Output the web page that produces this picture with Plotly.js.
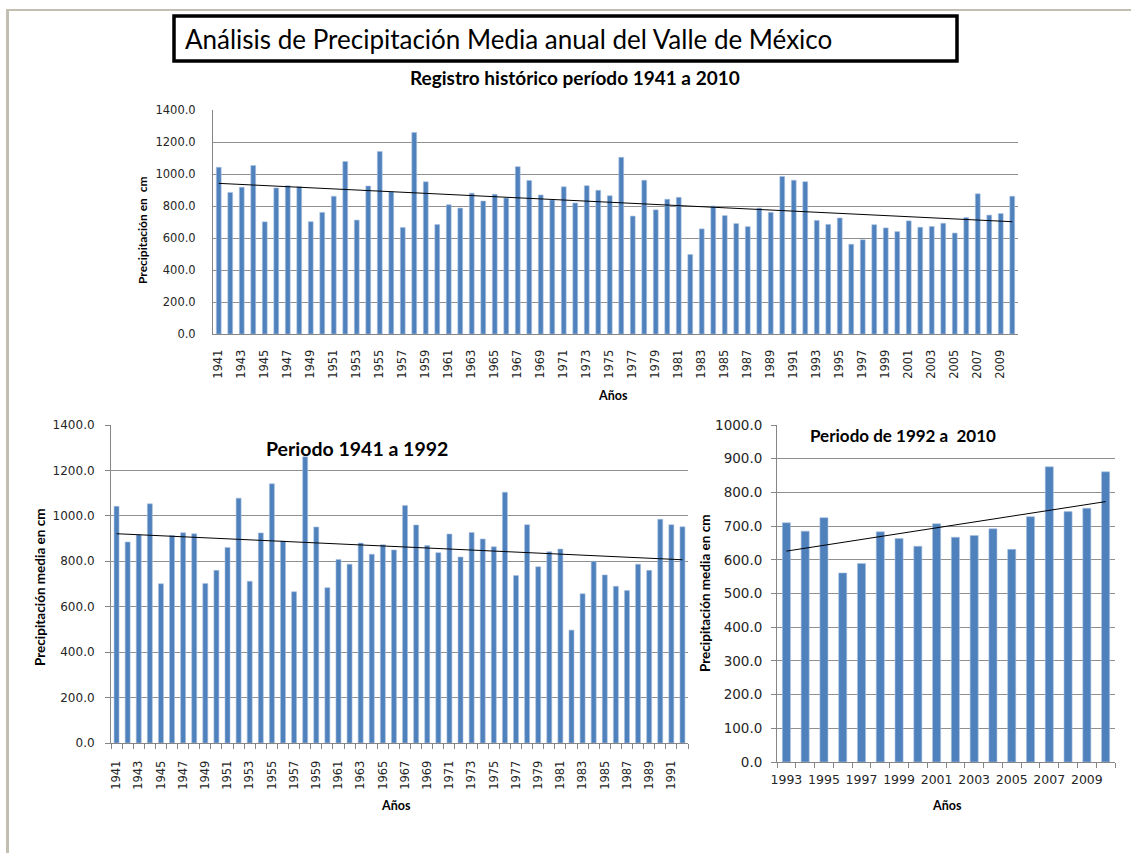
<!DOCTYPE html>
<html><head><meta charset="utf-8">
<script src="https://cdn.plot.ly/plotly-3.0.1.min.js"></script>
<style>html,body{margin:0;padding:0;background:#fff}#chart{width:1131px;height:853px}</style>
</head><body><div id="chart"></div>
<script>
// ---- Data ----
const years = [1941,1942,1943,1944,1945,1946,1947,1948,1949,1950,
  1951,1952,1953,1954,1955,1956,1957,1958,1959,1960,
  1961,1962,1963,1964,1965,1966,1967,1968,1969,1970,
  1971,1972,1973,1974,1975,1976,1977,1978,1979,1980,
  1981,1982,1983,1984,1985,1986,1987,1988,1989,1990,
  1991,1992,1993,1994,1995,1996,1997,1998,1999,2000,
  2001,2002,2003,2004,2005,2006,2007,2008,2009,2010];
const precip = [1042,885,917,1053,701,913,926,921,702,760,
  861,1078,712,925,1141,889,666,1260,951,684,
  808,787,880,831,873,850,1046,960,869,838,
  920,819,927,898,864,1104,737,961,776,842,
  854,497,657,800,740,690,671,787,760,985,
  961,952,710,685,725,561,589,683,663,640,
  707,667,672,692,631,728,876,743,753,861];

const mainTitle = "Análisis de Precipitación Media anual del Valle de México";
const titleTop = "Registro histórico período 1941 a 2010";
const titleLeft = "Periodo 1941 a 1992";
const titleRight = "Periodo de 1992 a \u00a02010";
const yTitleTop = "Precipitación en \u00a0cm";
const yTitleBottom = "Precipitación media en cm";
const xTitle = "Años";

// subsets
const yearsA = years.filter(y => y <= 1992);
const precipA = precip.filter((v, i) => years[i] <= 1992);
const yearsB = years.filter(y => y >= 1993);
const precipB = precip.filter((v, i) => years[i] >= 1993);

function trend(xs, ys) {
  const n = xs.length;
  const mx = xs.reduce((a, b) => a + b, 0) / n;
  const my = ys.reduce((a, b) => a + b, 0) / n;
  let sxy = 0, sxx = 0;
  for (let i = 0; i < n; i++) { sxy += (xs[i] - mx) * (ys[i] - my); sxx += (xs[i] - mx) ** 2; }
  const b = sxy / sxx;
  return { x: [xs[0], xs[n - 1]], y: [my + b * (xs[0] - mx), my + b * (xs[n - 1] - mx)] };
}
const oddTicks = arr => arr.filter(y => y % 2 === 1);
const bounds = arr => [arr[0] - 0.5].concat(arr.map(y => y + 0.5));

const W = 1131, H = 853;
const px = x => x / W;
const py = y => 1 - y / H;

const barColor = '#4f81bd';
const barLine = {color: '#a9c1df', width: 0.6};
const tickFont = {family: 'DejaVu Sans, Verdana, sans-serif', size: 11.5, color: '#262626'};
const gridC = '#8f8f8f';
const axisC = '#868686';

const tA = trend(yearsA, precipA), tB = trend(yearsB, precipB), tAll = trend(years, precip);

const traces = [
  {type: 'bar', x: years, y: precip, width: 0.42, marker: {color: barColor, line: barLine}, xaxis: 'x', yaxis: 'y'},
  {type: 'scatter', mode: 'lines', x: tAll.x, y: tAll.y, line: {color: '#000', width: 1}, xaxis: 'x', yaxis: 'y'},
  {type: 'bar', x: yearsA, y: precipA, width: 0.45, marker: {color: barColor, line: barLine}, xaxis: 'x2', yaxis: 'y2'},
  {type: 'scatter', mode: 'lines', x: tA.x, y: tA.y, line: {color: '#000', width: 1}, xaxis: 'x2', yaxis: 'y2'},
  {type: 'bar', x: yearsB, y: precipB, width: 0.43, marker: {color: barColor, line: barLine}, xaxis: 'x3', yaxis: 'y3'},
  {type: 'scatter', mode: 'lines', x: tB.x, y: tB.y, line: {color: '#000', width: 1}, xaxis: 'x3', yaxis: 'y3'}
];

const titleFont = (size, bold) => ({family: 'Lato, Liberation Sans, sans-serif', size: size, color: '#000', weight: bold ? 'bold' : 'normal'});

const layout = {
  width: W, height: H, autosize: false,
  margin: {l: 0, r: 0, t: 0, b: 0, pad: 0},
  paper_bgcolor: '#fff', plot_bgcolor: '#fff',
  showlegend: false, bargap: 0,
  xaxis: {
    domain: [px(213), px(1018)], anchor: 'y', range: [1940.5, 2010.5],
    tickmode: 'array', tickvals: oddTicks(years), ticktext: oddTicks(years).map(String),
    tickangle: -90, ticks: '', ticklabelstandoff: 10, tickfont: tickFont,
    showgrid: false, showline: true, linecolor: axisC, zeroline: false
  },
  yaxis: {
    domain: [py(334), py(110)], anchor: 'x', range: [0, 1400], dtick: 200, tickformat: '.1f',
    ticks: '', ticklabelstandoff: 14, tickfont: tickFont,
    showgrid: true, gridcolor: gridC, gridwidth: 1, showline: true, linecolor: axisC, zeroline: false
  },
  xaxis2: {
    domain: [px(111), px(688)], anchor: 'y2', range: [1940.5, 1992.5],
    tickmode: 'array', tickvals: oddTicks(yearsA), ticktext: oddTicks(yearsA).map(String),
    tickangle: -90, ticks: 'outside', ticklen: 0, ticklabelstandoff: 12, tickfont: tickFont,
    minor: {tickmode: 'array', tickvals: bounds(yearsA), ticks: 'outside', ticklen: 5, tickcolor: axisC, tickwidth: 1, showgrid: false},
    showgrid: false, showline: true, linecolor: axisC, zeroline: false
  },
  yaxis2: {
    domain: [py(743), py(425)], anchor: 'x2', range: [0, 1400], dtick: 200, tickformat: '.1f',
    ticks: 'outside', ticklen: 5, tickcolor: axisC, ticklabelstandoff: 8, tickfont: {family: tickFont.family, size: 12, color: '#262626'},
    showgrid: true, gridcolor: gridC, gridwidth: 1, showline: true, linecolor: axisC, zeroline: false
  },
  xaxis3: {
    domain: [px(777), px(1115)], anchor: 'y3', range: [1992.5, 2010.5],
    tickmode: 'array', tickvals: oddTicks(yearsB), ticktext: oddTicks(yearsB).map(String),
    tickangle: 0, ticks: 'outside', ticklen: 0, ticklabelstandoff: 6, tickfont: {family: tickFont.family, size: 12.5, color: '#262626'},
    minor: {tickmode: 'array', tickvals: bounds(yearsB), ticks: 'outside', ticklen: 5, tickcolor: axisC, tickwidth: 1, showgrid: false},
    showgrid: false, showline: true, linecolor: axisC, zeroline: false
  },
  yaxis3: {
    domain: [py(762), py(425)], anchor: 'x3', range: [0, 1000], dtick: 100, tickformat: '.1f',
    ticks: 'outside', ticklen: 5, tickcolor: axisC, ticklabelstandoff: 6, tickfont: {family: tickFont.family, size: 13.5, color: '#262626'},
    showgrid: true, gridcolor: gridC, gridwidth: 1, showline: true, linecolor: axisC, zeroline: false
  },
  shapes: [
    {type: 'line', xref: 'paper', yref: 'paper', x0: px(6), x1: 1, y0: py(10), y1: py(10), line: {color: '#c2beb2', width: 2}},
    {type: 'line', xref: 'paper', yref: 'paper', x0: px(7.5), x1: px(7.5), y0: py(9), y1: 0, line: {color: '#c2beb2', width: 3}},
    {type: 'rect', xref: 'paper', yref: 'paper', x0: px(174), x1: px(957), y0: py(61), y1: py(16), line: {color: '#000', width: 3.5}, fillcolor: 'rgba(0,0,0,0)'}
  ],
  annotations: [
    {text: mainTitle, xref: 'paper', yref: 'paper', x: px(183), y: py(39), xanchor: 'left', yanchor: 'middle', showarrow: false, font: titleFont(26, false)},
    {text: titleTop, xref: 'paper', yref: 'paper', x: px(575), y: py(78), xanchor: 'center', yanchor: 'middle', showarrow: false, font: titleFont(19, true)},
    {text: yTitleTop, xref: 'paper', yref: 'paper', x: px(142), y: py(230), xanchor: 'center', yanchor: 'middle', textangle: -90, showarrow: false, font: titleFont(12, true)},
    {text: xTitle, xref: 'paper', yref: 'paper', x: px(613), y: py(395), xanchor: 'center', yanchor: 'middle', showarrow: false, font: titleFont(12.5, true)},
    {text: titleLeft, xref: 'paper', yref: 'paper', x: px(357), y: py(449), xanchor: 'center', yanchor: 'middle', showarrow: false, font: titleFont(19.5, true)},
    {text: yTitleBottom, xref: 'paper', yref: 'paper', x: px(40), y: py(588), xanchor: 'center', yanchor: 'middle', textangle: -90, showarrow: false, font: titleFont(13.5, true)},
    {text: xTitle, xref: 'paper', yref: 'paper', x: px(396), y: py(805), xanchor: 'center', yanchor: 'middle', showarrow: false, font: titleFont(12.5, true)},
    {text: titleRight, xref: 'paper', yref: 'paper', x: px(903), y: py(435), xanchor: 'center', yanchor: 'middle', showarrow: false, font: titleFont(17, true)},
    {text: yTitleBottom, xref: 'paper', yref: 'paper', x: px(705), y: py(594), xanchor: 'center', yanchor: 'middle', textangle: -90, showarrow: false, font: titleFont(13.5, true)},
    {text: xTitle, xref: 'paper', yref: 'paper', x: px(947), y: py(805), xanchor: 'center', yanchor: 'middle', showarrow: false, font: titleFont(12.5, true)}
  ]
};

Plotly.newPlot('chart', traces, layout, {displayModeBar: false, staticPlot: true});
</script></body></html>
